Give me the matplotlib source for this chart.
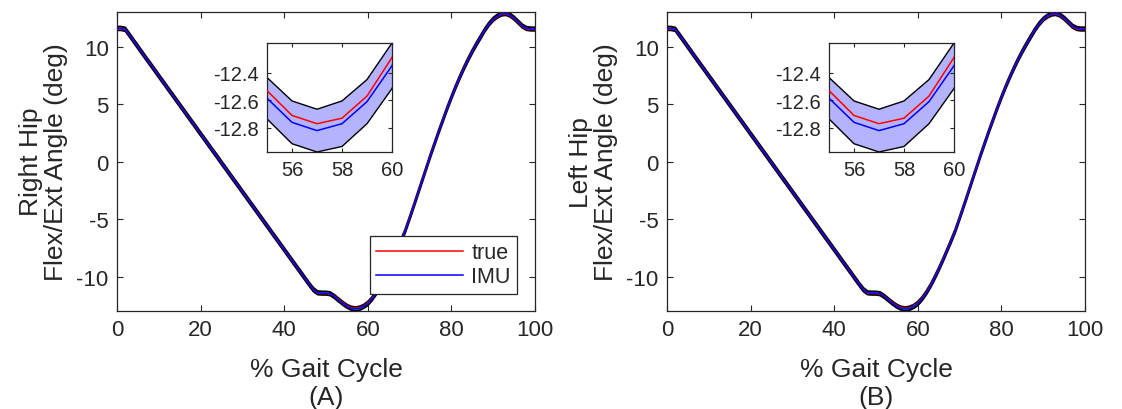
import numpy as np
import matplotlib
matplotlib.use("Agg")
import matplotlib.pyplot as plt

plt.rcParams["font.family"] = ["Liberation Sans", "DejaVu Sans"]
plt.rcParams["axes.unicode_minus"] = False

# % gait cycle, sampled every 1 %
gait_pct = np.arange(0, 101)

# hip flexion/extension angle (deg)
hip_true = [
    11.55, 11.55, 11.48, 11.00, 10.50, 9.99, 9.49, 8.98, 8.48, 7.98,
    7.47, 6.97, 6.46, 5.96, 5.46, 4.95, 4.45, 3.94, 3.44, 2.94,
    2.43, 1.93, 1.42, 0.92, 0.42, -0.09, -0.59, -1.10, -1.60, -2.10,
    -2.61, -3.11, -3.62, -4.12, -4.62, -5.13, -5.63, -6.14, -6.64, -7.14,
    -7.65, -8.15, -8.66, -9.16, -9.66, -10.17, -10.67, -11.15, -11.45, -11.48,
    -11.48, -11.52, -11.70, -12.00, -12.28, -12.53, -12.71, -12.77, -12.73, -12.57,
    -12.29, -11.90, -11.40, -10.80, -10.10, -9.35, -8.55, -7.70, -6.85, -5.95,
    -4.90, -3.85, -2.75, -1.65, -0.55, 0.55, 1.60, 2.65, 3.65, 4.65,
    5.60, 6.50, 7.35, 8.15, 8.90, 9.60, 10.25, 10.85, 11.45, 11.95,
    12.35, 12.62, 12.80, 12.85, 12.72, 12.45, 12.10, 11.75, 11.55, 11.50,
    11.50,
]

hip_imu = [
    11.59, 11.59, 11.51, 11.01, 10.50, 9.99, 9.48, 8.97, 8.47, 7.97,
    7.46, 6.96, 6.45, 5.95, 5.45, 4.94, 4.44, 3.93, 3.43, 2.93,
    2.42, 1.92, 1.41, 0.91, 0.41, -0.10, -0.60, -1.11, -1.61, -2.11,
    -2.62, -3.12, -3.63, -4.13, -4.63, -5.14, -5.64, -6.15, -6.65, -7.15,
    -7.66, -8.16, -8.67, -9.17, -9.67, -10.18, -10.68, -11.15, -11.42, -11.45,
    -11.45, -11.50, -11.74, -12.04, -12.33, -12.585, -12.76, -12.82, -12.77, -12.61,
    -12.35, -11.95, -11.44, -10.84, -10.14, -9.39, -8.59, -7.74, -6.89, -5.99,
    -4.94, -3.87, -2.77, -1.67, -0.57, 0.53, 1.58, 2.63, 3.63, 4.63,
    5.58, 6.48, 7.33, 8.13, 8.88, 9.58, 10.23, 10.84, 11.45, 11.97,
    12.38, 12.66, 12.84, 12.89, 12.76, 12.49, 12.14, 11.79, 11.59, 11.54,
    11.54,
]

# spread of the IMU estimate (deg)
hip_imu_sd = [
    0.16, 0.16, 0.16, 0.16, 0.16, 0.16, 0.16, 0.16, 0.16, 0.16,
    0.16, 0.16, 0.16, 0.16, 0.16, 0.16, 0.16, 0.16, 0.16, 0.16,
    0.16, 0.16, 0.16, 0.16, 0.16, 0.16, 0.16, 0.16, 0.16, 0.16,
    0.16, 0.16, 0.16, 0.16, 0.16, 0.16, 0.16, 0.16, 0.16, 0.16,
    0.16, 0.16, 0.16, 0.16, 0.16, 0.16, 0.16, 0.16, 0.15, 0.15,
    0.15, 0.15, 0.15, 0.15, 0.15, 0.15, 0.155, 0.155, 0.165, 0.16,
    0.165, 0.16, 0.16, 0.16, 0.16, 0.16, 0.16, 0.16, 0.16, 0.16,
    0.16, 0.16, 0.16, 0.16, 0.16, 0.16, 0.16, 0.16, 0.16, 0.16,
    0.16, 0.16, 0.16, 0.16, 0.16, 0.16, 0.16, 0.16, 0.15, 0.15,
    0.15, 0.15, 0.15, 0.15, 0.15, 0.15, 0.15, 0.15, 0.15, 0.15,
    0.15,
]

panel_ylabels = ["Right Hip\nFlex/Ext Angle (deg)", "Left Hip\nFlex/Ext Angle (deg)"]
panel_tags = ["(A)", "(B)"]
inset_range = [55, 60]

AX_COLOR = "#262626"
BAND_COLOR = (0.70, 0.70, 1.0)

x = gait_pct
y_true = np.array(hip_true)
y_imu = np.array(hip_imu)
sd = np.array(hip_imu_sd)
lo = y_imu - sd
hi = y_imu + sd


def style_axes(ax, size):
    for s in ax.spines.values():
        s.set_color(AX_COLOR)
        s.set_linewidth(0.9)
    ax.tick_params(direction="in", top=True, right=True, length=4,
                   width=0.8, color=AX_COLOR, labelcolor=AX_COLOR,
                   labelsize=size, pad=6)


def draw_curves(ax, edge_lw):
    ax.fill_between(x, lo, hi, facecolor=BAND_COLOR, edgecolor="none", zorder=1)
    ax.plot(x, lo, color="black", lw=edge_lw, zorder=2)
    ax.plot(x, hi, color="black", lw=edge_lw, zorder=2)
    l1, = ax.plot(x, y_true, color="red", lw=1.1, zorder=3, label="true")
    l2, = ax.plot(x, y_imu, color="blue", lw=1.1, zorder=4, label="IMU")
    return l1, l2


fig = plt.figure(figsize=(11.22, 4.1), dpi=100)

main_lefts = [117 / 1122, 667 / 1122]
inset_lefts = [267 / 1122, 829 / 1122]

for i in range(2):
    ax = fig.add_axes([main_lefts[i], 0.2398, 418 / 1122, 0.729])
    l1, l2 = draw_curves(ax, 1.4)
    ax.set_xlim(0, 100)
    ax.set_ylim(lo.min(), hi.max())
    ax.set_xticks([0, 20, 40, 60, 80, 100])
    ax.set_yticks([-10, -5, 0, 5, 10])
    style_axes(ax, 16)
    ax.set_xlabel("% Gait Cycle\n" + panel_tags[i], fontsize=19,
                  color=AX_COLOR, linespacing=1.25, labelpad=12)
    ax.set_ylabel(panel_ylabels[i], fontsize=19, color=AX_COLOR,
                  linespacing=1.05, labelpad=6)
    if i == 0:
        leg = ax.legend(handles=[l1, l2], loc="lower right",
                        bbox_to_anchor=(0.957, 0.056), borderaxespad=0,
                        fontsize=15.5, fancybox=False, framealpha=1,
                        edgecolor=AX_COLOR, handlelength=4.0,
                        handletextpad=0.4, borderpad=0.3, labelspacing=0.15)
        leg.get_frame().set_linewidth(0.9)
        for t in leg.get_texts():
            t.set_color(AX_COLOR)

    ins = fig.add_axes([inset_lefts[i], 1 - 153 / 410, 125 / 1122, 109 / 410])
    draw_curves(ins, 1.0)
    m = (x >= inset_range[0]) & (x <= inset_range[1])
    ins.set_xlim(inset_range)
    ins.set_ylim(lo[m].min(), hi[m].max())
    ins.set_xticks([56, 58, 60])
    ins.set_yticks([-12.8, -12.6, -12.4])
    ins.set_yticklabels(["-12.8", "-12.6", "-12.4"])
    style_axes(ins, 14.5)
    ins.tick_params(length=3)

fig.savefig("out.png", dpi=100)
